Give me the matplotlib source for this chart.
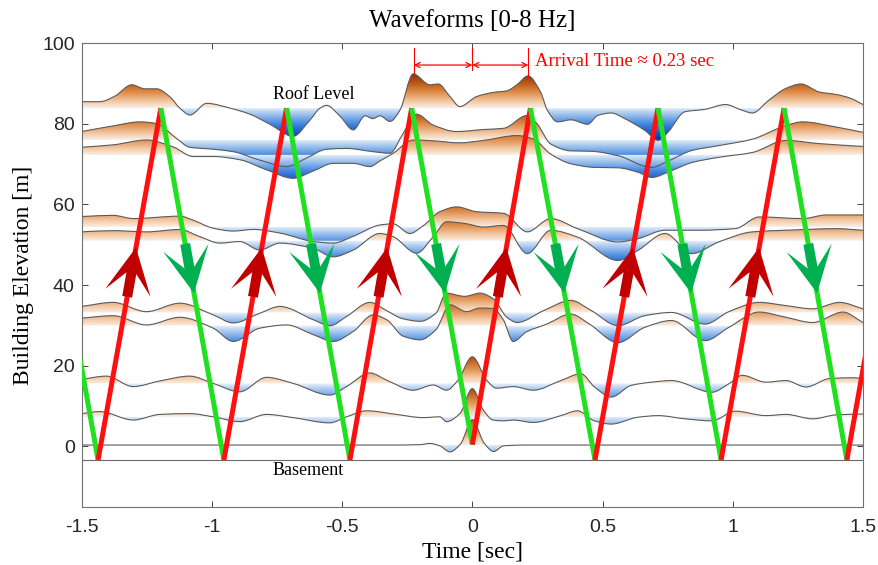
import numpy as np
import matplotlib
matplotlib.use("Agg")
import matplotlib.pyplot as plt
from matplotlib.path import Path
from matplotlib.patches import PathPatch, Polygon
from matplotlib.colors import LinearSegmentedColormap

# ---- data ----
# trace baselines (building elevation of each sensor, m)
baselines = [83.9, 76.0, 72.3, 54.4, 51.0, 33.2, 29.9, 15.6, 7.3, 0.3]

# trace knots: time (s) and amplitude relative to baseline (m)
t1 = [-1.5, -1.43, -1.372, -1.308, -1.257, -1.212, -1.161, -1.123, -1.084, -1.02, -0.93, -0.854, -0.777,
      -0.688, -0.624, -0.585, -0.56, -0.508, -0.457, -0.412, -0.382, -0.355, -0.316, -0.278, -0.227, -0.163,
      -0.131, -0.086, -0.048, 0.017, 0.08, 0.132, 0.171, 0.214, 0.262, 0.288, 0.327, 0.379, 0.443, 0.482,
      0.533, 0.585, 0.662, 0.714, 0.752, 0.816, 0.893, 0.972, 1.035, 1.075, 1.139, 1.204, 1.262, 1.333,
      1.397, 1.45, 1.5]
a1 = [1.6, 1.6, 3.0, 5.8, 4.8, 4.8, 2.8, 0.0, -1.7, 1.2, 0.0, -1.5, -4.0,
      -7.0, -3.0, 0.0, 0.7, -2.0, -5.4, -1.9, -2.6, -1.9, -3.3, -0.5, 8.5, 5.8,
      6.0, 2.9, 0.4, 2.9, 3.9, 4.3, 5.8, 8.0, 4.0, -0.5, -3.4, -2.9, -4.0, -1.8,
      -1.2, -2.6, -5.5, -8.0, -5.9, -0.9, -0.3, 0.9, -0.5, -1.2, 2.0, 4.9, 6.0, 4.0,
      3.4, 2.5, 0.9]

t2 = [-1.5, -1.379, -1.277, -1.213, -1.136, -1.085, -0.995, -0.918, -0.816, -0.713, -0.637, -0.56,
      -0.483, -0.381, -0.317, -0.265, -0.214, -0.15, -0.061, 0.043, 0.12, 0.211, 0.249, 0.301, 0.378,
      0.456, 0.559, 0.688, 0.753, 0.843, 0.946, 1.075, 1.204, 1.268, 1.398, 1.5]
a2 = [2.1, 3.5, 4.5, 4.1, 0.4, -1.8, -2.3, -2.9, -5.0, -6.6, -4.5, -2.3,
      -2.1, -2.9, -3.3, 1.7, 6.4, 3.7, 2.1, 2.6, 2.9, 6.1, 4.0, -1.0, -2.7,
      -2.8, -3.9, -6.8, -5.2, -2.6, -1.4, 0.2, 3.6, 4.5, 3.2, 1.9]

t3 = [-1.5, -1.379, -1.251, -1.149, -1.072, -0.995, -0.893, -0.79, -0.688, -0.611, -0.534, -0.457,
      -0.393, -0.355, -0.304, -0.227, -0.15, -0.05, 0.043, 0.172, 0.236, 0.301, 0.378, 0.469, 0.559,
      0.636, 0.688, 0.765, 0.843, 0.946, 1.075, 1.204, 1.333, 1.5]
a3 = [1.9, 2.5, 3.7, 2.0, -0.4, -0.4, -1.2, -3.7, -5.8, -4.0, -2.1, -2.1,
      -2.9, -1.5, 0.4, 3.7, 3.5, 3.0, 3.6, 4.8, 3.9, 0.2, -2.2, -3.1, -3.2,
      -4.3, -5.6, -3.9, -1.9, -0.6, 0.6, 3.6, 2.8, 2.1]

t4 = [-1.5, -1.379, -1.302, -1.123, -1.072, -0.995, -0.918, -0.841, -0.739, -0.611, -0.534, -0.457,
      -0.355, -0.304, -0.24, -0.189, -0.125, -0.06, 0.017, 0.12, 0.211, 0.301, 0.404, 0.559, 0.636,
      0.74, 0.869, 1.01, 1.101, 1.269, 1.359, 1.5]
a4 = [2.6, 2.9, 2.1, 2.7, 1.7, -0.3, -1.0, -0.6, -1.5, -3.6, -4.0, -2.3,
      0.5, 0.8, -1.6, 0.3, 3.8, 5.0, 3.8, 3.4, -1.2, 2.1, -0.4, -3.7, -2.9,
      -0.8, -0.8, -0.4, 2.5, 2.1, 3.0, 3.0]

t5 = [-1.5, -1.379, -1.251, -1.123, -1.046, -0.969, -0.893, -0.816, -0.739, -0.611, -0.534, -0.457,
      -0.355, -0.304, -0.214, -0.15, -0.099, -0.03, 0.043, 0.12, 0.211, 0.301, 0.404, 0.559, 0.636,
      0.74, 0.843, 0.946, 1.075, 1.204, 1.398, 1.5]
a5 = [2.2, 2.5, 2.2, 2.8, 1.0, -0.6, -0.2, -2.3, -0.6, -1.9, -4.0, -2.3,
      1.8, 1.0, -3.1, 1.0, 4.7, 4.3, 3.4, 3.8, -3.2, 2.6, 0.9, -4.9, -2.4,
      1.8, -3.2, -0.3, 2.2, 2.6, 3.0, 2.6]

t6 = [-1.5, -1.379, -1.251, -1.123, -0.995, -0.918, -0.816, -0.739, -0.611, -0.547, -0.483, -0.393,
      -0.33, -0.27, -0.2, -0.14, -0.1, -0.03, 0.03, 0.08, 0.133, 0.172, 0.275, 0.378, 0.456,
      0.559, 0.662, 0.765, 0.894, 0.985, 1.101, 1.204, 1.307, 1.41, 1.5]
a6 = [1.5, 2.5, 0.2, 2.3, -0.6, -2.6, -0.2, 1.5, -1.8, -3.3, -1.0, 2.5,
      0.5, -1.5, -2.2, -0.2, 4.8, 4.0, 4.8, 3.4, -1.2, -2.5, 0.5, 3.0, 0.5,
      -3.3, -0.8, 0.0, -2.9, 0.2, 2.5, 1.7, 0.9, 2.5, 0.9]

t7 = [-1.5, -1.379, -1.251, -1.123, -0.995, -0.918, -0.816, -0.713, -0.611, -0.534, -0.457, -0.381,
      -0.329, -0.265, -0.201, -0.14, -0.086, -0.022, 0.029, 0.08, 0.119, 0.157, 0.208, 0.285, 0.378,
      0.45, 0.559, 0.662, 0.765, 0.894, 0.985, 1.101, 1.204, 1.307, 1.423, 1.5]
a7 = [1.9, 2.5, 0.2, 2.1, -0.6, -3.9, -0.6, 0.2, -2.2, -3.9, -1.4, 2.7,
      1.5, -2.6, -3.5, -1.0, 5.2, 3.5, 4.4, 4.3, 1.5, -3.9, -1.5, 0.4, 2.9,
      0.4, -4.2, -0.4, 1.3, -3.7, -0.4, 3.4, 2.1, 0.8, 3.4, 0.8]

t8 = [-1.5, -1.405, -1.302, -1.2, -1.085, -0.995, -0.893, -0.79, -0.688, -0.547, -0.483, -0.393,
      -0.329, -0.227, -0.15, -0.099, -0.055, 0.0, 0.055, 0.093, 0.157, 0.234, 0.34, 0.417, 0.469,
      0.533, 0.61, 0.688, 0.765, 0.92, 0.985, 1.036, 1.127, 1.204, 1.281, 1.372, 1.462, 1.5]
a8 = [1.0, 1.8, -0.8, 0.6, 1.8, 0.0, -2.1, 1.5, 0.0, -2.9, -0.8, 2.6,
      0.8, -1.7, -0.4, -1.7, 0.8, 6.6, 0.8, -1.2, -0.8, -1.7, 0.7, 2.4, -0.9,
      -3.4, -0.5, 0.3, 0.7, -2.2, -0.1, 2.0, 0.3, 0.7, -0.9, 1.2, 1.4, 1.2]

t9 = [-1.5, -1.43, -1.302, -1.2, -1.085, -0.995, -0.893, -0.79, -0.688, -0.547, -0.483, -0.406,
      -0.291, -0.189, -0.125, -0.099, -0.048, 0.0, 0.042, 0.08, 0.12, 0.157, 0.234, 0.34, 0.404,
      0.469, 0.533, 0.636, 0.714, 0.817, 0.92, 1.01, 1.127, 1.204, 1.307, 1.398, 1.5]
a9 = [0.8, 1.3, -0.8, 0.6, 0.8, 0.0, -1.2, 0.6, -0.2, -1.5, 0.0, 1.5,
      0.6, -0.2, 0.0, -1.2, 0.8, 7.0, 1.7, -0.8, -1.0, -0.8, -1.4, 0.3, 1.5,
      -1.0, -1.8, -0.1, 0.3, -0.5, -1.0, 1.4, 0.3, 0.6, -0.5, 0.5, 0.7]

t10 = [-1.5, -0.3, -0.2, -0.163, -0.125, -0.086, -0.045, 0.0, 0.045, 0.082, 0.12, 0.2, 1.5]
a10 = [0.0, 0.0, 0.1, 0.4, -0.2, -1.7, 0.3, 6.3, 0.5, -1.6, -0.2, 0.0, 0.0]

trace_t = [t1, t2, t3, t4, t5, t6, t7, t8, t9, t10]
trace_a = [a1, a2, a3, a4, a5, a6, a7, a8, a9, a10]

basement = -3.4
# up/down travelling wave path (time s, elevation m)
zig_t = [-1.678, -1.437, -1.196, -0.954, -0.713, -0.470, -0.233, 0.0, 0.223, 0.471, 0.713, 0.955, 1.197, 1.438, 1.679]
zig_y = [83.9, -3.4, 83.9, -3.4, 83.9, -3.4, 83.9, 0.4, 83.9, -3.4, 83.9, -3.4, 83.9, -3.4, 83.9]
up_tip_elev = 49.3
down_tip_elev = 38.0

arrival_t = [-0.225, 0.0, 0.215]

xticks = [-1.5, -1, -0.5, 0, 0.5, 1, 1.5]
xtick_labels = ["-1.5", "-1", "-0.5", "0", "0.5", "1", "1.5"]
yticks = [0, 20, 40, 60, 80, 100]

SERIF = ["Liberation Serif", "DejaVu Serif"]
plt.rcParams["font.family"] = ["Liberation Sans", "DejaVu Sans"]

# amplitude colouring: blue for troughs, brown for peaks, pale tint at the baseline
wave_cmap = LinearSegmentedColormap.from_list("wave", [
    (0.00, "#00238f"), (0.12, "#0a4fc4"), (0.28, "#4589e0"), (0.42, "#a9c9f0"),
    (0.497, "#e4eefa"), (0.50, "#ffffff"), (0.503, "#fbeadc"),
    (0.58, "#f3cba9"), (0.70, "#e0914f"), (0.84, "#bb5713"), (1.00, "#6e2a02")])


def hermite_path(t, y):
    t = np.asarray(t, float)
    y = np.asarray(y, float)
    n = len(t)
    d = np.diff(y) / np.diff(t)
    m = np.zeros(n)
    m[0], m[-1] = d[0], d[-1]
    for i in range(1, n - 1):
        if d[i - 1] * d[i] > 0:
            m[i] = 2 * d[i - 1] * d[i] / (d[i - 1] + d[i])
    verts = [(t[0], y[0])]
    codes = [Path.MOVETO]
    for i in range(n - 1):
        h = t[i + 1] - t[i]
        verts += [(t[i] + h / 3, y[i] + m[i] * h / 3),
                  (t[i + 1] - h / 3, y[i + 1] - m[i + 1] * h / 3),
                  (t[i + 1], y[i + 1])]
        codes += [Path.CURVE4] * 3
    return verts, codes


fig = plt.figure(figsize=(8.79, 5.65), dpi=100)
ax = fig.add_axes([0.0929, 0.1032, 0.8889, 0.8202])
ax.set_xlim(-1.5, 1.5)
ax.set_ylim(-15, 100)

grad = np.linspace(-9, 9, 900).reshape(-1, 1)
for base, tt, aa in zip(baselines, trace_t, trace_a):
    yy = base + np.asarray(aa)
    verts, codes = hermite_path(tt, yy)
    fverts = verts + [(tt[-1], base), (tt[0], base), (tt[0], yy[0])]
    fcodes = codes + [Path.LINETO, Path.LINETO, Path.CLOSEPOLY]
    clip = PathPatch(Path(fverts, fcodes), transform=ax.transData, facecolor="none", edgecolor="none")
    ax.add_patch(clip)
    im = ax.imshow(grad, extent=[-1.5, 1.5, base - 9, base + 9], origin="lower", aspect="auto",
                   cmap=wave_cmap, vmin=-9, vmax=9, interpolation="bilinear", zorder=1)
    im.set_clip_path(clip)
    ax.add_patch(PathPatch(Path(verts, codes), facecolor="none", edgecolor="#5a5a5a", lw=0.8, zorder=2))

ax.axhline(basement, color="#6a6a6a", lw=0.8, zorder=2)

ax.set_xlim(-1.5, 1.5)
ax.set_ylim(-15, 100)

# zigzag wave path
for i in range(len(zig_t) - 1):
    up = zig_y[i + 1] > zig_y[i]
    ax.plot(zig_t[i:i + 2], zig_y[i:i + 2], color="#ff1010" if up else "#20e020",
            lw=3.6, solid_capstyle="butt", zorder=3)

# arrow heads
inv = ax.transData.inverted()
for i in range(len(zig_t) - 1):
    t0, t1_, y0, y1 = zig_t[i], zig_t[i + 1], zig_y[i], zig_y[i + 1]
    if t0 < -1.5 or t1_ > 1.5:
        continue
    up = y1 > y0
    e = up_tip_elev if up else down_tip_elev
    tip_t = t0 + (e - y0) / (y1 - y0) * (t1_ - t0)
    p0 = ax.transData.transform((t0, y0))
    p1 = ax.transData.transform((t1_, y1))
    d = (p1 - p0) / np.hypot(*(p1 - p0))
    nrm = np.array([-d[1], d[0]])
    tip = ax.transData.transform((tip_t, e))
    shape = [(0, 0), (-46, 23), (-26, 5), (-50, 5), (-50, -5), (-26, -5), (-46, -23)]
    pts = [tip + a * d + b * nrm for a, b in shape]
    ax.add_patch(Polygon(inv.transform(pts), closed=True, facecolor="#c00000" if up else "#00b050",
                         edgecolor="none", zorder=4))

# arrival time annotation
for tx, yb in zip(arrival_t, [92.6, 93.4, 91.6]):
    ax.plot([tx, tx], [98.9, yb], color="red", lw=0.8, zorder=5)
for ta, tb in zip(arrival_t[:-1], arrival_t[1:]):
    ax.annotate("", xy=(ta, 94.6), xytext=(tb, 94.6),
                arrowprops=dict(arrowstyle="<->", color="red", lw=0.9, mutation_scale=9,
                                shrinkA=0, shrinkB=0), zorder=5)
ax.text(0.241, 95.4, "Arrival Time \u2248 0.23 sec", color="red", fontsize=13.5, family=SERIF,
        ha="left", va="center", zorder=5)

ax.text(-0.608, 87.3, "Roof Level", fontsize=13, family=SERIF, ha="center", va="center", zorder=5)
ax.text(-0.63, -6.0, "Basement", fontsize=13, family=SERIF, ha="center", va="center", zorder=5)

ax.set_xticks(xticks)
ax.set_xticklabels(xtick_labels)
ax.set_yticks(yticks)
ax.tick_params(direction="in", top=True, right=True, length=4, width=0.6, labelsize=14,
               colors="#262626")
ax.tick_params(axis="x", pad=9)
ax.tick_params(axis="y", pad=5)
for s in ax.spines.values():
    s.set_color("#707070")
    s.set_linewidth(0.8)

ax.set_title("Waveforms [0-8 Hz]", fontsize=18, family=SERIF, pad=12)
ax.set_xlabel("Time [sec]", fontsize=17, family=SERIF, labelpad=4)
ax.set_ylabel("Building Elevation [m]", fontsize=17, family=SERIF, labelpad=6)

fig.savefig("out.png", dpi=100)
